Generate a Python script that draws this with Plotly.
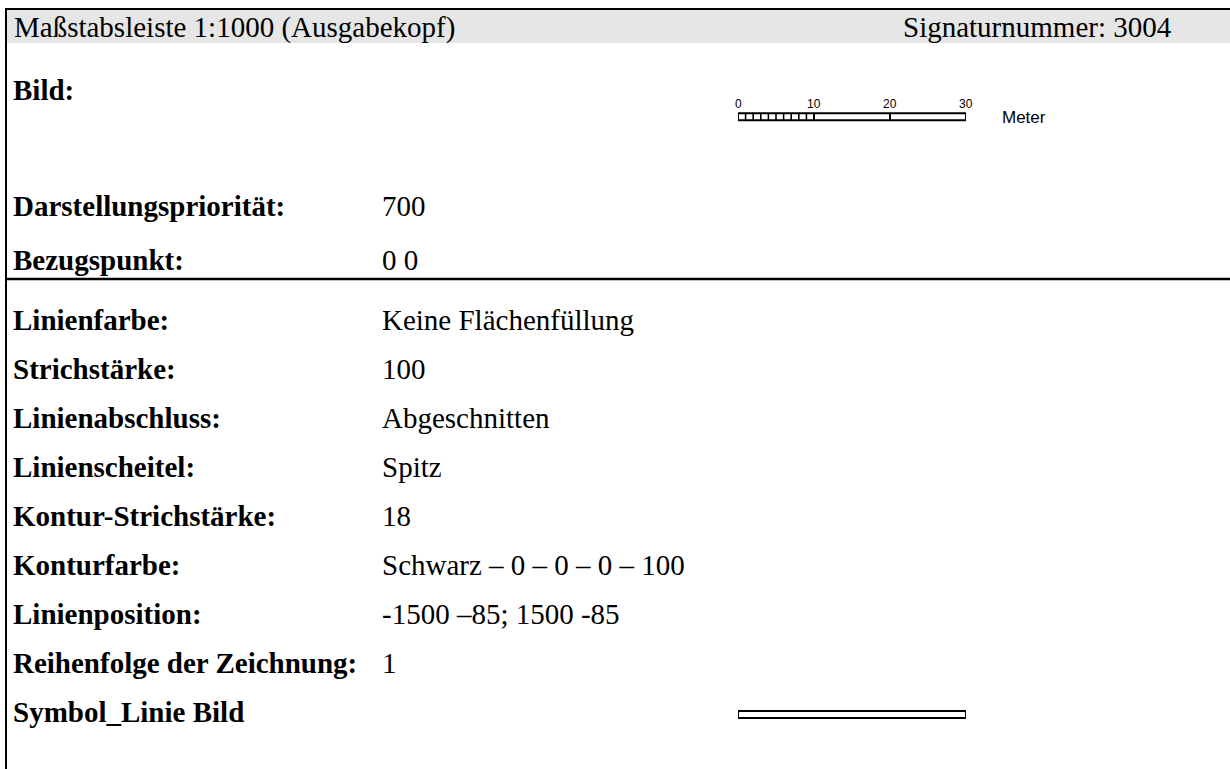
import plotly.graph_objects as go

W, H = 1230, 769

header_left = "Maßstabsleiste 1:1000 (Ausgabekopf)"
header_right = "Signaturnummer: 3004"

top_labels = ["Darstellungspriorität:", "Bezugspunkt:"]
top_values = ["700", "0 0"]

row_labels = ["Linienfarbe:", "Strichstärke:", "Linienabschluss:", "Linienscheitel:",
              "Kontur-Strichstärke:", "Konturfarbe:", "Linienposition:",
              "Reihenfolge der Zeichnung:"]
row_values = ["Keine Flächenfüllung", "100", "Abgeschnitten", "Spitz", "18",
              "Schwarz – 0 – 0 – 0 – 100", "-1500 –85; 1500 -85", "1"]
last_label = "Symbol_Linie Bild"

scale_ticks = [0, 10, 20, 30]
scale_minor = list(range(0, 11))
scale_unit = "Meter"

SERIF = "Liberation Serif, Times New Roman, serif"
SANS = "Liberation Sans, Arial, sans-serif"
FS = 29

fig = go.Figure()
fig.update_layout(
    width=W, height=H, margin=dict(l=0, r=0, t=0, b=0, pad=0),
    paper_bgcolor="white", plot_bgcolor="rgba(0,0,0,0)", showlegend=False,
    xaxis=dict(range=[0, W], visible=False, domain=[0, 1], fixedrange=True),
    yaxis=dict(range=[H, 0], visible=False, domain=[0, 1], fixedrange=True),
    xaxis2=dict(range=[0, 30], visible=False, domain=[738 / W, 966 / W],
                anchor="y", fixedrange=True),
)

shapes = []
ann = []

# header band and frame
shapes.append(dict(type="rect", xref="x", yref="y", x0=6, x1=W, y0=10, y1=43,
                   fillcolor="#e6e6e6", line=dict(width=0)))
shapes.append(dict(type="line", xref="x", yref="y", x0=5, x1=W, y0=9, y1=9,
                   line=dict(color="black", width=2)))
shapes.append(dict(type="line", xref="x", yref="y", x0=6, x1=6, y0=8, y1=H,
                   line=dict(color="black", width=2)))
shapes.append(dict(type="line", xref="x", yref="y", x0=5, x1=W, y0=279, y1=279,
                   line=dict(color="black", width=2.5)))


def text(x, y, s, anchor="left", bold=False, size=FS, family=SERIF, ref="x"):
    ann.append(dict(x=x, y=y, xref=ref, yref="y", text=f"<b>{s}</b>" if bold else s,
                    showarrow=False, xanchor=anchor, yanchor="middle",
                    font=dict(family=family, size=size, color="black")))


text(12, 27, header_left)
text(1174, 27, header_right, anchor="right")
text(11, 90, "Bild:", bold=True)

# scale bar
by0, by1 = 113.3, 120.3
shapes.append(dict(type="rect", xref="x2", yref="y", x0=scale_ticks[0], x1=scale_ticks[-1],
                   y0=by0, y1=by1, fillcolor="white", line=dict(color="black", width=2)))
for m in scale_minor[1:-1]:
    shapes.append(dict(type="line", xref="x2", yref="y", x0=m, x1=m, y0=by0, y1=by1,
                       line=dict(color="black", width=1.6)))
for t in scale_ticks[1:-1]:
    shapes.append(dict(type="line", xref="x2", yref="y", x0=t, x1=t, y0=by0, y1=by1,
                       line=dict(color="black", width=2)))
for t in scale_ticks:
    text(t, 104, str(t), anchor="center", size=12, family=SANS, ref="x2")
text(1000, 117.5, scale_unit, size=17, family=SANS)

# top rows
top_y = [206, 260]
for y, lab, val in zip(top_y, top_labels, top_values):
    text(11, y, lab, bold=True)
    text(380, y, val)

# property rows
for i, (lab, val) in enumerate(zip(row_labels, row_values)):
    y = 320 + i * 49
    text(11, y, lab, bold=True)
    text(380, y, val)

text(11, 712, last_label, bold=True)

# symbol line
shapes.append(dict(type="rect", xref="x2", yref="y", x0=scale_ticks[0], x1=scale_ticks[-1],
                   y0=711, y1=718, fillcolor="white", line=dict(color="black", width=2)))

fig.add_trace(go.Scatter(x=[0], y=[-100], xaxis="x2", yaxis="y", mode="markers",
                         marker=dict(opacity=0), hoverinfo="skip"))

fig.update_layout(shapes=shapes, annotations=ann)
fig.write_html("out.html", config={"displayModeBar": False},
               post_script="document.body.style.margin='0';document.body.style.overflow='hidden';")
